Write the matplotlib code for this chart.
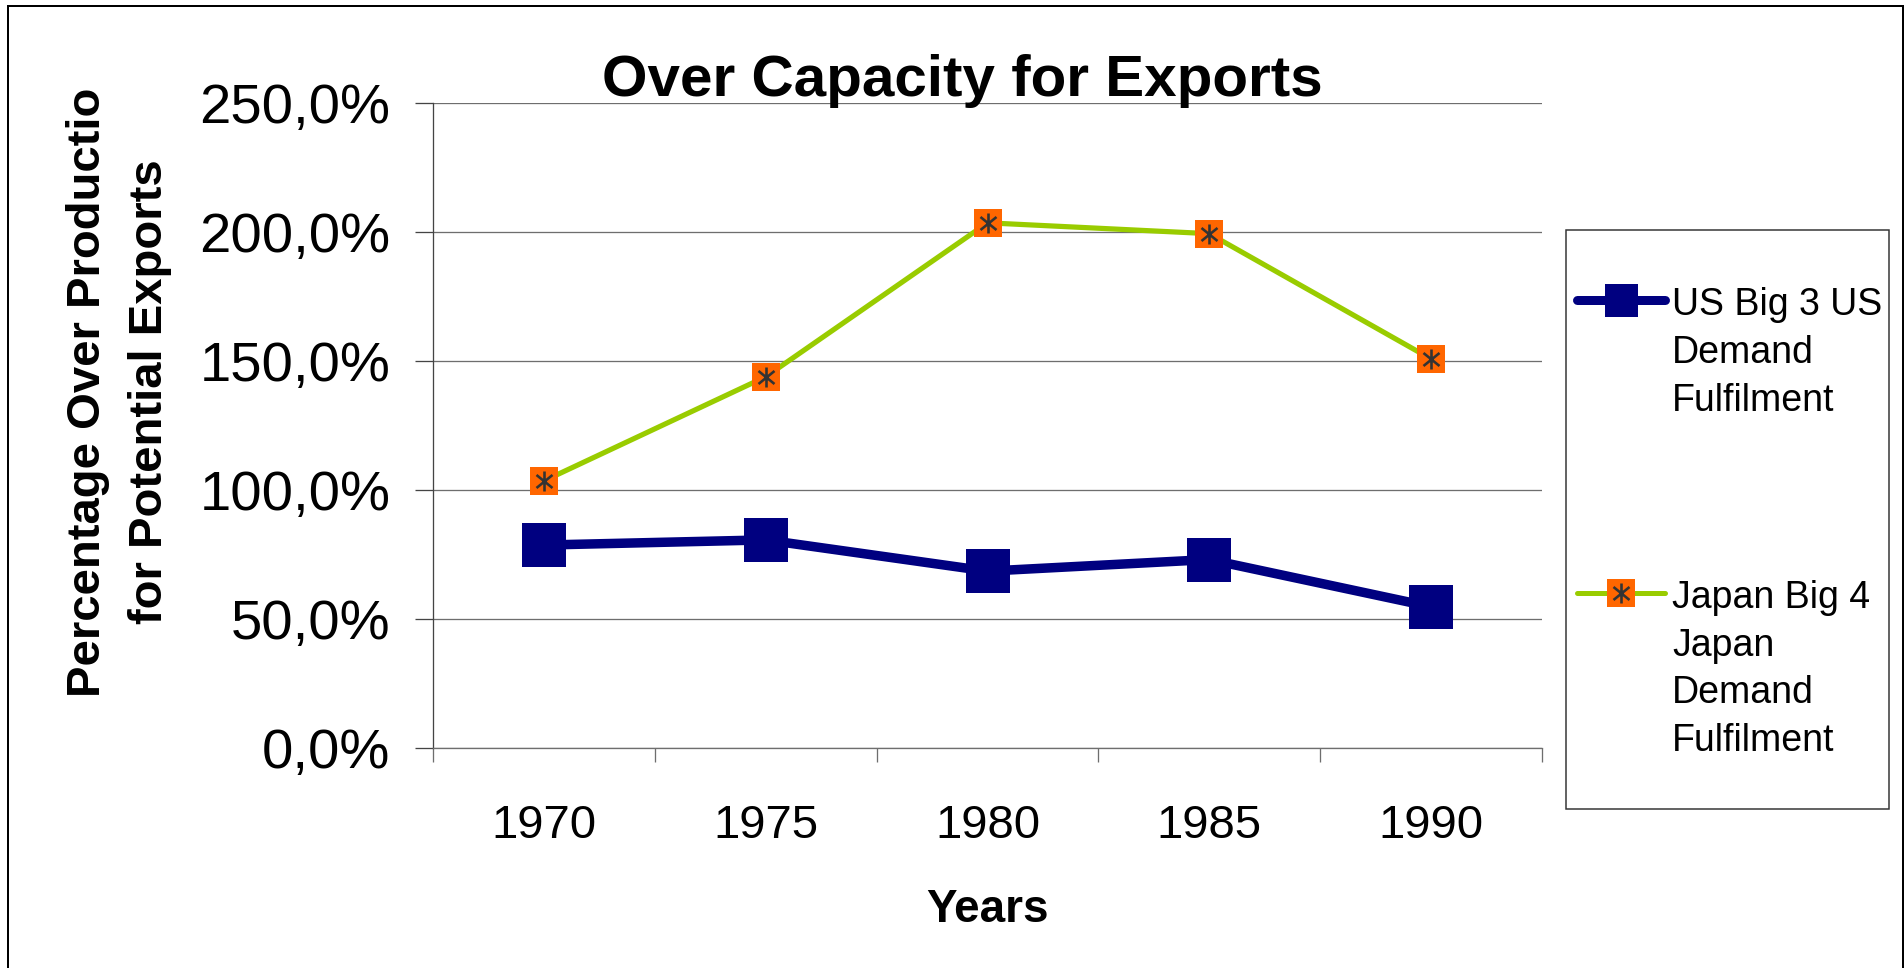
import matplotlib
matplotlib.use("Agg")
import matplotlib.pyplot as plt
from matplotlib.path import Path
from matplotlib.lines import Line2D
from matplotlib.patches import Rectangle
from matplotlib.ticker import FixedLocator, FuncFormatter, NullFormatter
from matplotlib.legend_handler import HandlerTuple

# ---- data -------------------------------------------------------------
years = ["1970", "1975", "1980", "1985", "1990"]
us_big3 = [78.6, 80.6, 68.5, 73.0, 54.7]          # % over production
japan_big4 = [103.5, 143.8, 203.4, 199.2, 150.7]  # % over production
series_names = ["US Big 3 US\nDemand\nFulfilment",
                "Japan Big 4\nJapan\nDemand\nFulfilment"]
y_ticks = [0, 50, 100, 150, 200, 250]

# ---- styling ----------------------------------------------------------
W, H, DPI = 1904, 968, 100
PX = 72 / DPI  # points per pixel

NAVY = "#000080"
GREEN = "#99CC00"
ORANGE = "#FF6600"
STAR = "#333333"
GRID = "#6E6E6E"

plt.rcParams["font.family"] = ["Liberation Sans", "DejaVu Sans"]

# asterisk: vertical stroke plus an X
star = Path([(0, -1), (0, 1), (-0.8, -0.65), (0.8, 0.65), (-0.8, 0.65), (0.8, -0.65)],
            [Path.MOVETO, Path.LINETO, Path.MOVETO, Path.LINETO, Path.MOVETO, Path.LINETO])

fig = plt.figure(figsize=(W / DPI, H / DPI), dpi=DPI)
ax = fig.add_axes([433.3 / W, 1 - 748 / H, (1541.8 - 433.3) / W, (748 - 102.5) / H])

x = list(range(len(years)))

ax.plot(x, us_big3, color=NAVY, lw=9.5 * PX, marker="s", ms=44 * PX,
        mfc=NAVY, mec=NAVY, mew=0, zorder=3)
ax.plot(x, japan_big4, color=GREEN, lw=5.2 * PX, marker="s", ms=28 * PX,
        mfc=ORANGE, mec=ORANGE, mew=0, zorder=3)
ax.plot(x, japan_big4, ls="none", marker=star, ms=20 * PX,
        mec=STAR, mfc="none", mew=2.6 * PX, zorder=4)

# ---- axes -------------------------------------------------------------
ax.set_xlim(-0.5, len(years) - 0.5)
ax.set_ylim(y_ticks[0], y_ticks[-1])

ax.xaxis.set_major_locator(FixedLocator([i - 0.5 for i in range(len(years) + 1)]))
ax.xaxis.set_major_formatter(NullFormatter())
ax.xaxis.set_minor_locator(FixedLocator(x))
ax.set_xticklabels(years, minor=True)
ax.tick_params(axis="x", which="major", direction="out", length=14 * PX,
               width=1.3 * PX, color=GRID)
ax.tick_params(axis="x", which="minor", length=0, pad=56 * PX, labelsize=34)

ax.set_yticks(y_ticks)
ax.yaxis.set_major_formatter(FuncFormatter(lambda v, _: f"{v:.1f}".replace(".", ",") + "%"))
ax.tick_params(axis="y", direction="out", length=18 * PX, width=1.3 * PX,
               color="#444444", pad=25 * PX, labelsize=40.5)

ax.yaxis.grid(True, color=GRID, lw=1.3 * PX, zorder=0)
ax.set_axisbelow(True)
for side in ("top", "right"):
    ax.spines[side].set_visible(False)
ax.spines["left"].set_color("#444444")
ax.spines["left"].set_linewidth(1.3 * PX)
ax.spines["bottom"].set_color(GRID)
ax.spines["bottom"].set_linewidth(1.3 * PX)

# ---- texts ------------------------------------------------------------
fig.text(962 / W, 1 - 96 / H, "Over Capacity for Exports", ha="center",
         va="baseline", fontsize=42, fontweight="bold")
fig.text(987 / W, 1 - 921.7 / H, "Years", ha="center", va="baseline",
         fontsize=33, fontweight="bold")
fig.text(119 / W, 1 - 392 / H, "Percentage Over Productio\nfor Potential Exports",
         rotation=90, ha="center", va="center", multialignment="center",
         fontsize=34, fontweight="bold", linespacing=1.55)

# ---- legend -----------------------------------------------------------
us_handle = Line2D([], [], color=NAVY, lw=9 * PX, marker="s", ms=33 * PX,
                   mfc=NAVY, mec=NAVY, mew=0, solid_capstyle="round")
jp_handle = Line2D([], [], color=GREEN, lw=5 * PX, marker="s", ms=28 * PX,
                   mfc=ORANGE, mec=ORANGE, mew=0, solid_capstyle="round")
jp_star = Line2D([], [], ls="none", marker=star, ms=20 * PX, mec=STAR,
                 mfc="none", mew=2.6 * PX)

leg_fs = 27
em = leg_fs / PX
leg = fig.legend([us_handle, (jp_handle, jp_star)], series_names,
                 handler_map={tuple: HandlerTuple(ndivide=1, pad=0)},
                 loc="upper left", bbox_to_anchor=(1577 / W, 1 - 287 / H),
                 frameon=False, borderpad=0, borderaxespad=0,
                 handlelength=88 / em, handletextpad=7 / em, labelspacing=4.3,
                 fontsize=leg_fs, handleheight=0.7)
for t in leg.get_texts():
    t.set_linespacing(1.42)
# put each handle beside the first line of its label
for column in leg._legend_handle_box.get_children():
    for row in column.get_children():
        row.align = "top"

fig.add_artist(Rectangle((1566 / W, 1 - 809 / H), (1889 - 1566) / W, (809 - 230) / H,
                         transform=fig.transFigure, fill=False,
                         edgecolor="#333333", lw=1.5 * PX))

# outer chart border
fig.add_artist(Rectangle((8 / W, -0.02), (1903 - 8) / W, 1 - 6 / H + 0.02,
                         transform=fig.transFigure, fill=False,
                         edgecolor="black", lw=2 * PX))

fig.savefig("out.png", dpi=DPI, facecolor="white")
